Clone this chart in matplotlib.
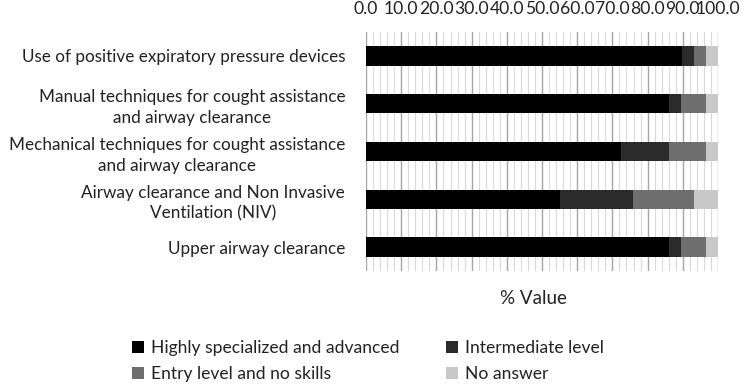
import matplotlib
matplotlib.use("Agg")
import matplotlib.pyplot as plt
from matplotlib.patches import Patch
from matplotlib.ticker import MultipleLocator

plt.rcParams['font.family'] = ['Lato', 'DejaVu Sans']

# skill level shares (% of respondents), n = 29
categories = [
    "Use of positive expiratory pressure devices",
    "Manual techniques for cought assistance\nand airway clearance",
    "Mechanical techniques for cought assistance\nand airway clearance",
    "Airway clearance and Non Invasive\nVentilation (NIV)",
    "Upper airway clearance",
]
highly = [89.7, 86.2, 72.4, 55.2, 86.2]
intermediate = [3.4, 3.4, 13.8, 20.7, 3.4]
entry = [3.4, 6.9, 10.3, 17.2, 6.9]
no_answer = [3.4, 3.4, 3.4, 6.9, 3.4]

series = [
    ("Highly specialized and advanced", highly, "#000000"),
    ("Intermediate level", intermediate, "#2b2b2b"),
    ("Entry level and no skills", entry, "#6e6e6e"),
    ("No answer", no_answer, "#c8c8c8"),
]

fig = plt.figure(figsize=(7.44, 3.87), dpi=100)
ax = fig.add_axes([0.492, 0.300, 0.473, 0.617])

y = list(range(len(categories)))
left = [0.0] * len(categories)
for name, vals, color in series:
    ax.barh(y, vals, left=left, height=0.4, color=color, zorder=3)
    left = [l + v for l, v in zip(left, vals)]

ax.set_xlim(0, 100)
ax.set_ylim(len(categories) - 0.5, -0.5)
ax.xaxis.set_major_locator(MultipleLocator(10))
ax.xaxis.set_minor_locator(MultipleLocator(2))
ax.xaxis.set_major_formatter(lambda v, p: f"{v:.1f}")
ax.xaxis.tick_top()
ax.tick_params(axis='x', which='both', length=0, labelsize=12.6, pad=11, colors='#222222')
ax.tick_params(axis='y', length=0, pad=15)
ax.grid(axis='x', which='major', color='#a6a6a6', linewidth=1.0, zorder=1)
ax.grid(axis='x', which='minor', color='#d9d9d9', linewidth=0.8, zorder=1)
for s in ax.spines.values():
    s.set_visible(False)

ax.set_yticks(y)
ax.set_yticklabels(categories, fontsize=12.3, multialignment='center',
                   linespacing=1.35, color='#222222')

fig.text(533 / 744, 1 - 298 / 387, "% Value", ha='center', va='center', fontsize=13.5, color='#222222')

# legend is filled row by row in the reference
order = [0, 2, 1, 3]
handles = [Patch(facecolor=series[i][2], edgecolor='none', label=series[i][0]) for i in order]
fig.legend(handles=handles, loc='center', bbox_to_anchor=(368 / 744, 1 - 361 / 387), ncol=2,
           frameon=False, fontsize=12.6, handlelength=0.7, handleheight=0.7, handletextpad=0.4,
           columnspacing=2.66, labelspacing=0.55, labelcolor='#222222')

fig.savefig("out.png", dpi=100)
